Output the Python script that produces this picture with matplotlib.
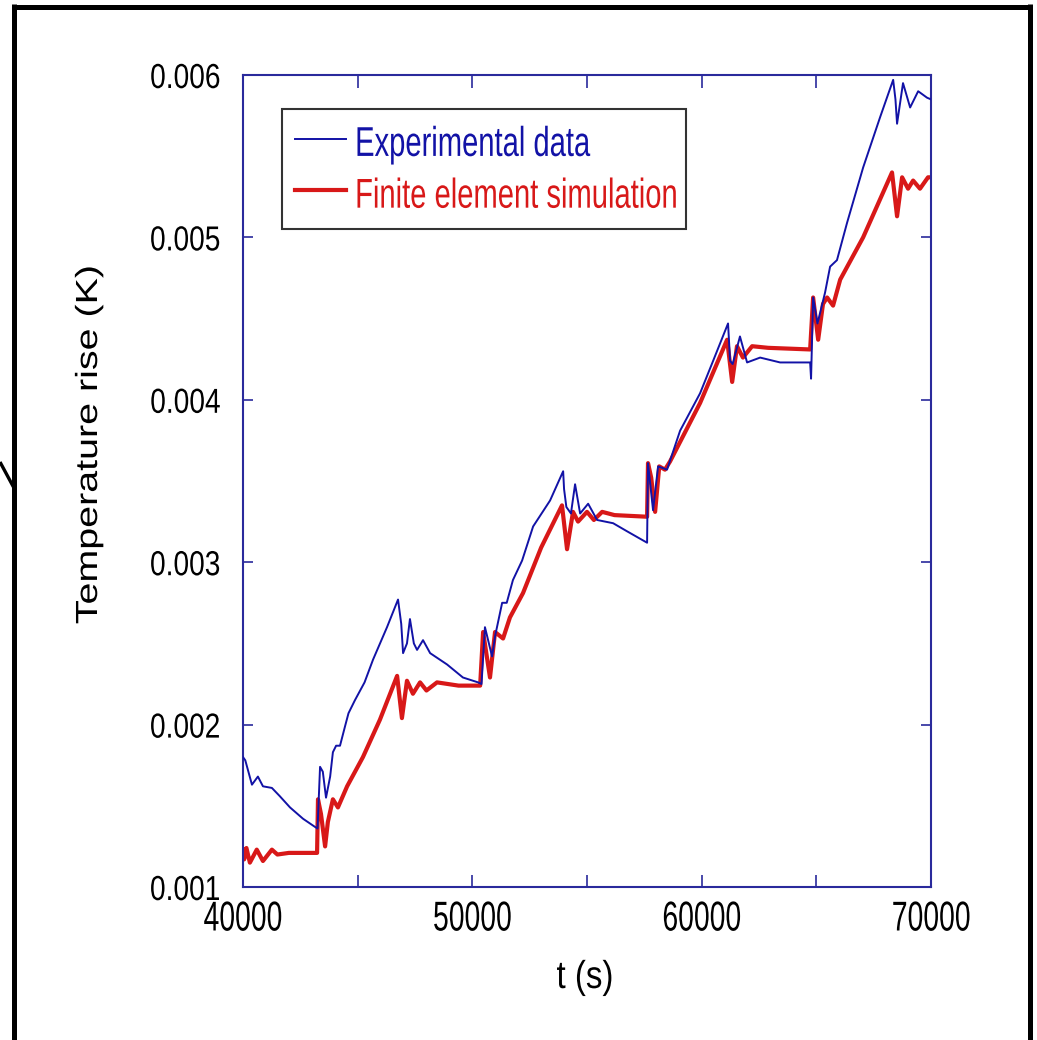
import matplotlib
matplotlib.use("Agg")
import matplotlib.pyplot as plt
from matplotlib import font_manager as fm
from matplotlib.lines import Line2D
from matplotlib.patheffects import AbstractPathEffect
from matplotlib.transforms import Affine2D
from matplotlib.ticker import FormatStrFormatter, MultipleLocator

# ---------------- data ----------------
t_exp = [40000, 40100, 40390, 40650, 40870, 41260, 41600, 42050, 42620, 43140,
         43250, 43360, 43480, 43620, 43800, 43920, 44060, 44230, 44450, 44600,
         44880, 45300, 45670, 46280, 46760, 46900, 46980, 47150, 47280, 47450,
         47590, 47850, 48160, 48900, 49590, 50250, 50400, 50550, 50860, 51000,
         51300, 51500, 51770, 52170, 52650, 53390, 53960, 54000, 54100, 54300,
         54480, 54700, 55050, 55440, 56140, 56750, 57620, 57660, 57880, 58100,
         58490, 59060, 59930, 60500, 61150, 61240, 61350, 61670, 61980, 62550,
         63420, 64730, 64770, 64860, 65050, 65380, 65600, 65900, 66340, 67040,
         67780, 68350, 68450, 68520, 68780, 69090, 69440, 69830, 70000]
T_exp = [0.00180, 0.00178, 0.00163, 0.00168, 0.00162, 0.00161, 0.00156, 0.00149, 0.00142, 0.00137,
         0.00136, 0.00174, 0.00171, 0.00155, 0.00168, 0.00183, 0.00187, 0.00187, 0.00199, 0.00207,
         0.00215, 0.00226, 0.00240, 0.00260, 0.00277, 0.00262, 0.00244, 0.00250, 0.00265, 0.00250,
         0.00246, 0.00252, 0.00244, 0.00237, 0.00229, 0.00226, 0.00225, 0.00260, 0.00242, 0.00255,
         0.00275, 0.00275, 0.00289, 0.00301, 0.00322, 0.00338, 0.00356, 0.00345, 0.00334, 0.00330,
         0.00348, 0.00330, 0.00336, 0.00326, 0.00324, 0.00319, 0.00312, 0.00361, 0.00332, 0.00359,
         0.00357, 0.00381, 0.00404, 0.00424, 0.00447, 0.00424, 0.00422, 0.00439, 0.00423, 0.00426,
         0.00423, 0.00423, 0.00413, 0.00463, 0.00447, 0.00466, 0.00482, 0.00486, 0.00509, 0.00543,
         0.00574, 0.00597, 0.00585, 0.00570, 0.00595, 0.00580, 0.00590, 0.00586, 0.00585]

t_sim = [40000, 40050, 40150, 40300, 40600, 40870, 41260, 41500, 42000, 43230,
         43270, 43400, 43580, 43700, 43920, 44140, 44540, 45230, 45970, 46720,
         46930, 47150, 47410, 47720, 48000, 48460, 49400, 50340, 50470, 50770,
         50990, 51340, 51640, 52210, 53000, 53910, 54130, 54390, 54610, 55000,
         55300, 55660, 56200, 57620, 57660, 57800, 57970, 58150, 58400, 58620,
         59930, 61110, 61330, 61540, 61800, 62200, 62900, 64730, 64860, 65080,
         65290, 65470, 65730, 66040, 67040, 68300, 68520, 68740, 69000, 69220,
         69520, 69870, 70000]
T_sim = [0.00123, 0.00117, 0.00124, 0.00115, 0.00123, 0.00116, 0.00123, 0.00120, 0.00121, 0.00121,
         0.00154, 0.00145, 0.00125, 0.00140, 0.00154, 0.00149, 0.00162, 0.00180, 0.00203, 0.00230,
         0.00204, 0.00227, 0.00219, 0.00226, 0.00221, 0.00226, 0.00224, 0.00224, 0.00257, 0.00229,
         0.00257, 0.00253, 0.00266, 0.00281, 0.00309, 0.00335, 0.00308, 0.00331, 0.00325, 0.00331,
         0.00326, 0.00331, 0.00329, 0.00328, 0.00361, 0.00352, 0.00331, 0.00359, 0.00357, 0.00362,
         0.00398, 0.00437, 0.00411, 0.00433, 0.00426, 0.00433, 0.00432, 0.00431, 0.00463, 0.00437,
         0.00459, 0.00463, 0.00458, 0.00474, 0.00500, 0.00540, 0.00513, 0.00537, 0.00530, 0.00535,
         0.00530, 0.00537, 0.00537]

series_labels = ["Experimental data", "Finite element simulation"]
x_label = "t (s)"
y_label = "Temperature rise (K)"

FONT = "Liberation Sans"


class Stretch(AbstractPathEffect):
    """Scale glyph outlines along the text direction (keeps real text)."""

    def __init__(self, sx=1.0, anchor=0.5):
        super().__init__()
        self.sx = sx
        self.anchor = anchor

    def draw_path(self, renderer, gc, tpath, affine, rgbFace=None):
        ext = tpath.get_extents()
        cx = ext.x0 + self.anchor * ext.width
        tr = Affine2D().translate(-cx, 0).scale(self.sx, 1.0).translate(cx, 0) + affine
        renderer.draw_path(gc, tpath, tr, rgbFace)


BLUE = "#1212a6"
RED = "#d81818"
SPINE = "#2a2a9c"

W, H = 1037, 1040
fig = plt.figure(figsize=(W / 100, H / 100), dpi=100)
ax = fig.add_axes([243 / W, 1 - 887 / H, (931 - 243) / W, (887 - 75) / H])

ax.plot(t_exp, T_exp, color=BLUE, lw=1.4, label=series_labels[0], zorder=3)
ax.plot(t_sim, T_sim, color=RED, lw=3.0, label=series_labels[1], zorder=2)

ax.set_xlim(40000, 70000)
ax.set_ylim(0.001, 0.006)
ax.xaxis.set_major_locator(MultipleLocator(10000))
ax.xaxis.set_minor_locator(MultipleLocator(5000))
ax.yaxis.set_major_locator(MultipleLocator(0.001))
ax.xaxis.set_major_formatter(FormatStrFormatter("%d"))
ax.yaxis.set_major_formatter(FormatStrFormatter("%.3f"))

for s in ax.spines.values():
    s.set_color(SPINE)
    s.set_linewidth(1.5)

ax.tick_params(axis="x", which="both", direction="in", length=9, width=1.2,
               color=SPINE, top=True, pad=9)
ax.tick_params(axis="y", which="both", direction="in", length=7, width=1.2,
               color=SPINE, right=True, pad=16)

for lab in ax.get_xticklabels():
    lab.set_fontfamily(FONT)
    lab.set_fontsize(30)
    lab.set_path_effects([Stretch(0.68, 0.5)])
for lab in ax.get_yticklabels():
    lab.set_fontfamily(FONT)
    lab.set_fontsize(25)
    lab.set_path_effects([Stretch(0.81, 1.0)])

xl = ax.set_xlabel(x_label, family=FONT, size=28)
xl.set_path_effects([Stretch(0.85, 0.5)])
ax.xaxis.set_label_coords((585 - 243) / 688, (887 - 960) / 812)

yl = ax.set_ylabel(y_label, family=FONT, size=22)
yl.set_path_effects([Stretch(1.29, 0.5)])
ax.yaxis.set_label_coords((104 - 243) / 688, (887 - 445) / 812)

leg = ax.legend(loc="upper left",
                bbox_to_anchor=((282 - 243) / 688, (887 - 228) / 812,
                                404 / 688, 119 / 812),
                mode="expand", borderaxespad=0,
                prop=fm.FontProperties(family=FONT, size=30),
                labelcolor="linecolor",
                handlelength=1.24, handletextpad=0.19, borderpad=0.3,
                handleheight=1.12, labelspacing=0.2,
                fancybox=False, frameon=True)
leg.get_frame().set_edgecolor("black")
leg.get_frame().set_linewidth(1.5)
for txt in leg.get_texts():
    txt.set_path_effects([Stretch(0.70, 0.0)])

# outer black frame (open at the bottom) and the small stroke on the left
def px_line(xs, ys, lw):
    fig.add_artist(Line2D([x / W for x in xs], [1 - y / H for y in ys],
                          transform=fig.transFigure, color="black", lw=lw,
                          solid_capstyle="butt"))

px_line([14, 14], [4, 1040], 3.6)
px_line([12, 1032], [6.5, 6.5], 3.6)
px_line([1029.5, 1029.5], [4, 1040], 3.6)
px_line([0, 14], [462, 488], 2.4)

fig.savefig("out.png", dpi=100)
